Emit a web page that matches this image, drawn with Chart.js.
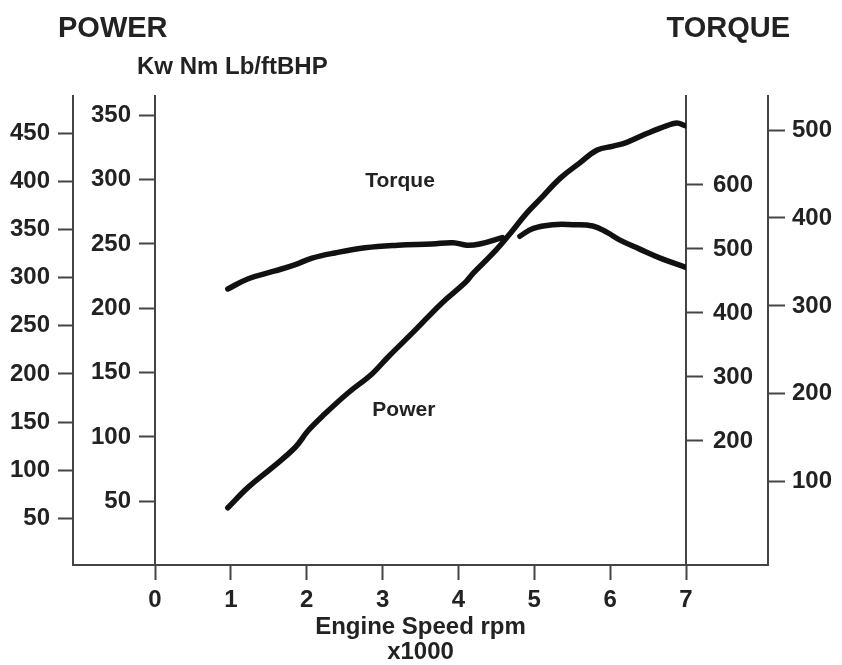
<!DOCTYPE html>
<html>
<head>
<meta charset="utf-8">
<title>Power / Torque</title>
<script src="https://cdn.jsdelivr.net/npm/chart.js@4.4.1/dist/chart.umd.min.js"></script>
<style>
    html, body { margin: 0; padding: 0; background: #fff; }
</style>
</head>
<body>
<canvas id="engineChart" width="842" height="665"></canvas>
<script>
// engine speed (x1000 rpm) and curve values, read against the inner left scale
const powerRpm = [0.96, 1.23, 1.54, 1.85, 2.02, 2.24, 2.54, 2.86, 3.07, 3.43, 3.78, 4.09, 4.19, 4.46, 4.68, 4.90, 5.08, 5.34, 5.60, 5.83, 6.04, 6.22, 6.49, 6.75, 6.88, 6.99];
const powerVals = [45, 61, 76, 92, 105, 118, 134, 149, 162, 183, 204, 220, 227, 243, 258, 274, 285, 301, 313, 323, 326, 329, 336, 342, 344, 342];

const torqueRpm = [0.96, 1.23, 1.58, 1.85, 2.07, 2.37, 2.77, 3.20, 3.65, 3.93, 4.11, 4.28, 4.58, 4.70, 4.81, 4.98, 5.25, 5.51, 5.77, 5.96, 6.13, 6.39, 6.66, 6.99];
const torqueVals = [215, 223, 229, 234, 239, 243, 247, 249, 250, 251, 249, 250, 255, null, 256, 262, 265, 265, 264, 259, 253, 246, 239, 232];

// tick labels of each axis
const rpmTicks = [0, 1, 2, 3, 4, 5, 6, 7];
const kwTicks = [50, 100, 150, 200, 250, 300, 350, 400, 450];
const nmTicks = [50, 100, 150, 200, 250, 300, 350];
const lbftTicks = [200, 300, 400, 500, 600];
const bhpTicks = [100, 200, 300, 400, 500];

// axis ranges [min, max]
const kwRange = [1.5, 488.8];
const nmRange = [0.5, 365];
const lbftRange = [6.25, 739];
const bhpRange = [5.2, 538.8];

const curveLabels = [
    { text: 'Torque', rpm: 3.23, val: 299 },
    { text: 'Power', rpm: 3.28, val: 121 }
];

const FONT = "'Liberation Sans', Arial, Helvetica, sans-serif";
const inkColor = '#111';
const textColor = '#222';
const axisColor = '#444';

Chart.defaults.font.family = FONT;
Chart.defaults.font.weight = 'bold';
Chart.defaults.color = textColor;

function fixedTicks(list) {
    return scale => { scale.ticks = list.map(v => ({ value: v })); };
}

function yAxis(position, weight, range, list, width, tickLen, pad) {
    return {
        type: 'linear',
        position: position,
        weight: weight,
        min: range[0],
        max: range[1],
        afterBuildTicks: fixedTicks(list),
        afterFit: scale => { scale.width = width; },
        border: { display: true, color: axisColor, width: 2 },
        grid: {
            drawOnChartArea: false,
            drawTicks: true,
            tickLength: tickLen,
            tickColor: axisColor,
            tickWidth: 2
        },
        ticks: {
            padding: pad,
            color: textColor,
            font: { size: 24, weight: 'bold' }
        }
    };
}

const overlayPlugin = {
    id: 'overlay',
    afterDraw(chart) {
        const { ctx, chartArea, scales } = chart;
        ctx.save();

        // bottom frame line spanning all four axes
        ctx.strokeStyle = axisColor;
        ctx.lineWidth = 2;
        ctx.beginPath();
        ctx.moveTo(scales.yKw.right - 1, chartArea.bottom);
        ctx.lineTo(scales.yBhp.left + 1, chartArea.bottom);
        ctx.stroke();

        ctx.fillStyle = textColor;
        ctx.textBaseline = 'alphabetic';
        ctx.font = 'bold 29px ' + FONT;
        ctx.textAlign = 'left';
        ctx.fillText('POWER', 58, 37);
        ctx.textAlign = 'right';
        ctx.fillText('TORQUE', 790, 37);

        ctx.font = 'bold 24px ' + FONT;
        ctx.textAlign = 'left';
        ctx.fillText('Kw Nm Lb/ftBHP', 137, 74);

        ctx.font = 'bold 21px ' + FONT;
        ctx.textAlign = 'center';
        ctx.textBaseline = 'middle';
        curveLabels.forEach(l => {
            ctx.fillText(l.text, scales.x.getPixelForValue(l.rpm), scales.yNm.getPixelForValue(l.val));
        });
        ctx.restore();
    }
};

function toPoints(xs, ys) {
    return xs.map((x, i) => ({ x: x, y: ys[i] }));
}

new Chart(document.getElementById('engineChart'), {
    type: 'line',
    data: {
        datasets: [
            {
                label: 'Torque',
                data: toPoints(torqueRpm, torqueVals),
                yAxisID: 'yNm',
                borderColor: inkColor,
                borderWidth: 5.5,
                borderCapStyle: 'round',
                borderJoinStyle: 'round',
                tension: 0.4,
                pointRadius: 0,
                spanGaps: false
            },
            {
                label: 'Power',
                data: toPoints(powerRpm, powerVals),
                yAxisID: 'yNm',
                borderColor: inkColor,
                borderWidth: 5.5,
                borderCapStyle: 'round',
                borderJoinStyle: 'round',
                tension: 0.4,
                pointRadius: 0
            }
        ]
    },
    options: {
        responsive: false,
        animation: false,
        layout: { padding: { top: 96, left: 0, right: 0, bottom: 0 } },
        plugins: {
            legend: { display: false },
            tooltip: { enabled: false }
        },
        scales: {
            x: {
                type: 'linear',
                position: 'bottom',
                min: 0,
                max: 7,
                afterBuildTicks: fixedTicks(rpmTicks),
                afterFit: scale => { scale.height = 100; },
                border: { display: true, color: axisColor, width: 2 },
                grid: {
                    drawOnChartArea: false,
                    drawTicks: true,
                    tickLength: 15,
                    tickColor: axisColor,
                    tickWidth: 2
                },
                ticks: {
                    padding: 6,
                    maxRotation: 0,
                    color: textColor,
                    font: { size: 24, weight: 'bold' }
                },
                title: {
                    display: true,
                    text: ['Engine Speed rpm', 'x1000'],
                    color: textColor,
                    font: { size: 24, weight: 'bold', lineHeight: 1.05 },
                    padding: { top: 0, bottom: 0 }
                }
            },
            yKw: yAxis('left', 2, kwRange, kwTicks, 73, 15, 8),
            yNm: yAxis('left', 1, nmRange, nmTicks, 82, 16, 8),
            yLbft: yAxis('right', 1, lbftRange, lbftTicks, 82, 17, 10),
            yBhp: yAxis('right', 2, bhpRange, bhpTicks, 74, 17, 7)
        }
    },
    plugins: [overlayPlugin]
});
</script>
</body>
</html>
